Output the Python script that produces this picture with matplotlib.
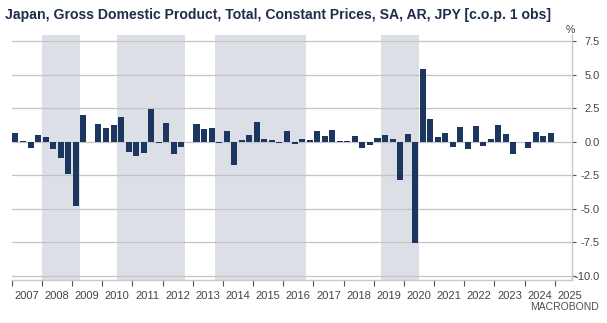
import matplotlib
matplotlib.use("Agg")
import matplotlib.pyplot as plt
import numpy as np

plt.rcParams['font.family'] = ['Liberation Sans', 'DejaVu Sans']

# Quarterly GDP change, q/q %, 2007Q1 .. 2024Q4
quarters_start = 2007.0
gdp_change = [
    0.62, 0.05, -0.50, 0.47,      # 2007
    0.37, -0.57, -1.22, -2.41,    # 2008
    -4.78, 1.97, -0.05, 1.29,     # 2009
    1.04, 1.22, 1.82, -0.80,      # 2010
    -1.07, -0.82, 2.44, -0.12,    # 2011
    1.39, -0.90, -0.37, -0.02,    # 2012
    1.34, 0.97, 1.00, -0.10,      # 2013
    0.80, -1.74, 0.12, 0.50,      # 2014
    1.49, 0.17, 0.10, -0.12,      # 2015
    0.77, -0.15, 0.22, 0.15,      # 2016
    0.77, 0.42, 0.87, 0.05,       # 2017
    0.05, 0.42, -0.47, -0.22,     # 2018
    0.25, 0.47, 0.20, -2.86,      # 2019
    0.57, -7.54, 5.42, 1.69,      # 2020
    0.32, 0.62, -0.37, 1.12,      # 2021
    -0.57, 1.17, -0.32, 0.22,     # 2022
    1.27, 0.60, -0.90, -0.05,     # 2023
    -0.45, 0.75, 0.42, 0.67,      # 2024
]

# Shaded periods (start, end) in fractional years
shaded_periods = [(2008.0, 2009.25), (2010.5, 2012.75), (2013.75, 2016.75), (2019.25, 2020.5)]

year_ticks = list(range(2007, 2026))
y_ticks = [7.5, 5.0, 2.5, 0.0, -2.5, -5.0, -7.5, -10.0]

title = "Japan, Gross Domestic Product, Total, Constant Prices, SA, AR, JPY [c.o.p. 1 obs]"

bar_color = "#1b365f"
shade_color = "#dcdfe6"
grid_color = "#c4c4c4"
text_color = "#444444"

W, H = 607, 323
fig = plt.figure(figsize=(W / 100, H / 100), dpi=100)

x0, x1 = 11.7, 571.7
y_top, y_bot = 35.0, 280.0
ax = fig.add_axes([x0 / W, 1 - y_bot / H, (x1 - x0) / W, (y_bot - y_top) / H])

px_per_year = 30.17
xmax = 2007 + (x1 - x0) / px_per_year
px_per_unit = 13.4
ymax = 7.5 + (41.2 - y_top) / px_per_unit
ymin = -10.0 - (y_bot - 275.7) / px_per_unit

ax.set_xlim(2007, xmax)
ax.set_ylim(ymin, ymax)

for s, e in shaded_periods:
    ax.axvspan(s, e, color=shade_color, lw=0, zorder=0)

for y in y_ticks:
    ax.axhline(y, color=grid_color, lw=0.9, zorder=1)

n = len(gdp_change)
xs = quarters_start + 0.25 * (np.arange(n) + 0.5)
ax.bar(xs, gdp_change, width=0.2, color=bar_color, edgecolor="none", zorder=3)

# spines
for side in ["top", "left"]:
    ax.spines[side].set_visible(False)
ax.spines["bottom"].set_color("#c8c8c8")
ax.spines["bottom"].set_linewidth(1.0)
ax.spines["right"].set_color("#c8c8c8")
ax.spines["right"].set_linewidth(1.0)

# y axis on the right
ax.yaxis.tick_right()
ax.set_yticks(y_ticks)
ax.set_yticklabels([f"{v:.1f}" for v in y_ticks])
ax.tick_params(axis="y", length=3, width=0.8, color="#555555", pad=17,
               labelsize=8, labelcolor=text_color)
for lbl in ax.get_yticklabels():
    lbl.set_horizontalalignment("right")

# x axis: ticks at year boundaries, labels centred between
ax.set_xticks(year_ticks)
ax.set_xticklabels([])
ax.set_xticks([y + 0.5 for y in year_ticks], minor=True)
ax.set_xticklabels([str(y) for y in year_ticks], minor=True)
ax.tick_params(axis="x", which="major", length=4, width=0.8, color="#555555")
ax.tick_params(axis="x", which="minor", length=0, pad=8, labelsize=8,
               labelcolor=text_color)

fig.text(5 / W, 1 - 15 / H, title, fontsize=10.1, fontweight="bold",
         color="#1e2d4a", va="center", ha="left")
fig.text(570 / W, 1 - 30 / H, "%", fontsize=7.5, color=text_color,
         ha="center", va="center")
fig.text(599 / W, 1 - 307 / H, "MACROBOND", fontsize=7.5, color="#4a4f5c",
         ha="right", va="center")

fig.savefig("out.png", dpi=100)
